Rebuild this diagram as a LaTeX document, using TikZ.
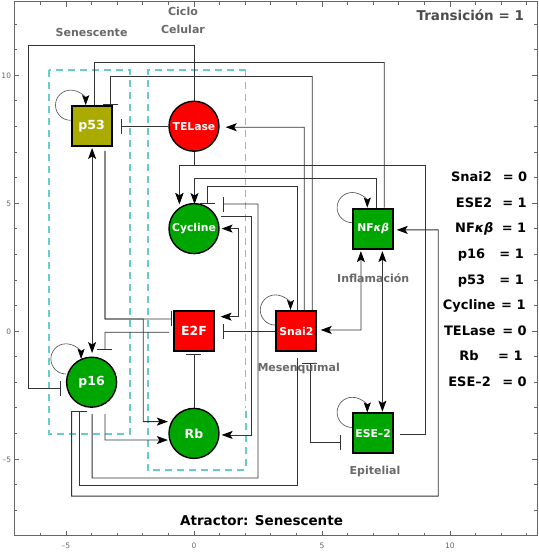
\documentclass[tikz,border=0pt]{standalone}
\usepackage{fontspec}
\setmainfont{DejaVu Sans}
\usetikzlibrary{calc}
\usetikzlibrary{arrows.meta}
\definecolor{nodegreen}{RGB}{0,166,0}
\definecolor{nodered}{RGB}{255,0,0}
\definecolor{nodeolive}{RGB}{170,170,0}
\definecolor{boxcyan}{RGB}{102,204,204}
\definecolor{framegray}{RGB}{102,102,102}
\definecolor{labelgray}{RGB}{105,105,105}
\tikzset{%
  wire/.style={draw=black!80, line width=0.8pt},
  actedge/.style={wire, -{Stealth[length=11pt,width=8pt,inset=2.5pt,color=black]}},
  bothedge/.style={wire, {Stealth[length=11pt,width=8pt,inset=2.5pt,color=black]}-{Stealth[length=11pt,width=8pt,inset=2.5pt,color=black]}},
  inhedge/.style={wire, -{Bar[width=15pt]}},
  mutinh/.style={wire, {Bar[width=15pt]}-{Bar[width=15pt]}},
  loopedge/.style={draw=black!70, line width=0.6pt, -{Stealth[length=10pt,width=7pt,inset=2pt,color=black]}},
  sqnode/.style={rectangle, draw=black, line width=2pt, minimum size=40pt, inner sep=0pt, text=white},
  cnode/.style={circle, draw=black, line width=1.4pt, minimum size=50pt, inner sep=0pt, text=white},
  bigtxt/.style={font=\fontsize{12.5}{15}\selectfont\bfseries},
  smalltxt/.style={font=\fontsize{10.8}{13}\selectfont\bfseries},
  grplabel/.style={text=labelgray, font=\fontsize{11}{18}\selectfont\bfseries, anchor=base},
  statelabel/.style={font=\fontsize{13}{15}\selectfont\bfseries, anchor=base},
  ticklabel/.style={text=framegray, font=\fontsize{7.5}{9}\selectfont},
  grpbox/.style={draw=boxcyan, line width=1.8pt, dash pattern=on 7pt off 5pt},
  grpboxthin/.style={draw=boxcyan, line width=0.8pt, dash pattern=on 7pt off 5pt}
}
\begin{document}
\begin{tikzpicture}[x=25.6pt, y=25.6pt]
  \useasboundingbox (-7.578,-8.633) rectangle (13.477,12.93);
  % frame and ticks
  \draw[framegray, line width=0.8pt] (-7.02,-8.0) rectangle (13.4,12.87);
  \foreach \t in {-7,...,13}
    \draw[framegray, line width=0.6pt] (\t,-8.0) -- ++(0,3pt) (\t,12.87) -- ++(0,-3pt);
  \foreach \t in {-8,...,12}
    \draw[framegray, line width=0.6pt] (-7.02,\t) -- ++(3pt,0) (13.4,\t) -- ++(-3pt,0);
  \foreach \t in {-5,0,5,10}
    \draw[framegray, line width=0.6pt] (\t,-8.0) -- ++(0,5pt) (\t,12.87) -- ++(0,-5pt)
      (-7.02,\t) -- ++(5pt,0) (13.4,\t) -- ++(-5pt,0);
  \foreach \t/\s in {-5/–5,0/0,5/5,10/10} {
    \node[ticklabel, anchor=base] at (\t,-8.49) {\s};
    \node[ticklabel, anchor=base east, inner sep=1pt] at (-7.1,{\t-0.15}) {\s};
  }

  % group boxes
  \draw[grpbox] (-5.66,10.2) rectangle (-2.5,-4.02);
  \draw[grpbox] (2.02,10.2) -- (-1.81,10.2) -- (-1.81,-5.43) -- (2.02,-5.43) -- (2.02,-3.0);
  \draw[grpboxthin] (2.02,10.2) -- (2.02,-3.0);

  % nodes
  \node[sqnode, fill=nodeolive, bigtxt] (p53) at (-4,8) {p53};
  \node[cnode, fill=nodered, smalltxt] (tel) at (0,8) {TELase};
  \node[cnode, fill=nodegreen, smalltxt] (cyc) at (0,4) {Cycline};
  \node[sqnode, fill=nodered, bigtxt] (e2f) at (0,0) {E2F};
  \node[sqnode, fill=nodered, smalltxt] (snai) at (4,0) {Snai2};
  \node[sqnode, fill=nodegreen, smalltxt] (nfkb) at (7,4) {NF{\itshape κβ}};
  \node[sqnode, fill=nodegreen, smalltxt] (ese) at (7,-4) {ESE–2};
  \node[cnode, fill=nodegreen, bigtxt] (p16) at (-4,-2) {p16};
  \node[cnode, fill=nodegreen, bigtxt] (rb) at (0,-4) {Rb};

  % wires
  \draw[inhedge] (tel.north) -- (0,11.17) -- (-6.48,11.17) -- (-6.48,-2.23) -- ($(p16)+(-1.2,-0.23)$);
  \draw[inhedge] (tel.west) -- ($(p53)+(1.13,0)$);
  \draw[wire] ($(p53)+(0.11,0.82)$) -- (-3.89,10.49) -- (7.43,10.49) -- ($(nfkb)+(0.43,0.82)$);
  \draw[inhedge] ($(snai)+(0.62,0.82)$) -- (4.62,9.94) -- (-3.26,9.94) -- ($(p53)+(0.74,0.85)$);
  \draw[actedge] ($(snai)+(0.31,0.82)$) -- (4.31,7.96) -- ($(tel)+(1.24,-0.04)$);
  \draw[bothedge] ($(p53)+(0.02,-0.85)$) -- ($(p16)+(0.02,1.14)$);
  \draw[inhedge] ($(p53)+(0.52,-0.96)$) -- (-3.48,0.47) -- ($(e2f)+(-0.86,0.47)$);
  \draw[actedge] ($(p53)+(0.52,-0.96)$) -- (-3.48,0.47) -- (-1.98,0.47) -- (-1.98,-3.54) -- ($(rb)+(-1.02,0.46)$);
  \draw[inhedge] ($(e2f)+(-0.98,-0.05)$) -- (-3.48,-0.05) -- ($(p16)+(0.52,1.26)$);
  \draw[actedge] ($(p16)+(0.52,-1.25)$) -- (-3.48,-4.26) -- ($(rb)+(-1.02,-0.26)$);
  \draw[inhedge] ($(p16)+(0.02,-1.25)$) -- (-3.98,-5.74) -- (2.5,-5.74) -- (2.5,4.96) -- ($(cyc)+(1.14,0.96)$);
  \draw[inhedge] ($(snai)+(0.02,0.82)$) -- (4.02,5.66) -- (0.52,5.66) -- ($(cyc)+(0.52,0.98)$);
  \draw[actedge] ($(ese)+(1.05,-0.02)$) -- (9.02,-4.02) -- (9.02,6.46) -- (-0.57,6.46) -- ($(cyc)+(-0.57,0.96)$);
  \draw[actedge] (tel.south) -- (0,6.46) -- (-0.57,6.46) -- ($(cyc)+(-0.57,0.96)$);
  \draw[actedge] ($(nfkb)+(0.14,0.82)$) -- (7.14,5.98) -- (0.02,5.98) -- ($(cyc)+(0.02,0.96)$);
  \draw[bothedge] ($(cyc)+(1.08,0)$) -- (1.72,4) -- (1.72,0.56) -- ($(e2f)+(1.04,0.56)$);
  \draw[actedge] ($(cyc)+(1.05,0.47)$) -- (2.23,4.47) -- (2.23,-4.06) -- ($(rb)+(1.08,-0.06)$);
  \draw[inhedge] ($(snai)+(0.03,-1.06)$) -- (4.03,-6.04) -- (-4.48,-6.04) -- ($(p16)+(-0.48,-1.13)$);
  \draw[actedge] ($(p16)+(-0.78,-1.13)$) -- (-4.78,-6.45) -- (9.54,-6.45) -- (9.54,3.95) -- ($(nfkb)+(0.92,-0.05)$);
  \draw[bothedge] ($(snai)+(0.95,0.04)$) -- (6.52,0.04) -- ($(nfkb)+(-0.48,-0.88)$);
  \draw[bothedge] ($(nfkb)+(0.36,-0.88)$) -- ($(ese)+(0.36,0.85)$);
  \draw[mutinh] ($(snai)+(0.53,-1.24)$) -- (4.53,-4.35) -- ($(ese)+(-1.27,-0.35)$);
  \draw[inhedge] (snai.west) -- ($(e2f)+(1.14,0)$);
  \draw[inhedge] (rb.north) -- ($(e2f)+(0,-0.91)$);

  % self loops
  \foreach \n in {p53,snai,nfkb,ese}
    \draw[loopedge] ($(\n)+(-0.82,0.23)$) arc[start angle=-90, end angle=-360, radius=0.59];
  \draw[loopedge] ($(p16)+(-1.0,0.32)$) arc[start angle=-90, end angle=-360, radius=0.59];

  % group labels
  \node[grplabel] (lsen) at (-4.0,11.52) {Senescente};
  \node[grplabel, align=center] (lcic) at (-0.43,11.63) {Ciclo\\Celular};
  \node[grplabel] (linf) at (7.0,1.91) {Inflamación};
  \node[grplabel] (lmes) at (4.09,-1.6) {Mesenquimal};
  \node[grplabel] (lepi) at (7.07,-5.59) {Epitelial};

  % state list
  \node[statelabel, text=black!70, font=\fontsize{13.5}{15}\selectfont\bfseries] (trans) at (10.79,12.12) {Transición = 1};
  \foreach \nm/\xa/\va/\xb/\row in {Snai2/10.84/= 0/12.54/6, ESE2/10.94/= 1/12.52/5,
      NF{\itshape κβ}/10.95/= 1/12.50/4, p16/10.84/= 1/12.41/3, p53/10.84/= 1/12.41/2,
      Cycline/10.75/= 1/12.48/1, TELase/10.77/= 0/12.52/0, Rb/10.74/= 1/12.36/-1,
      ESE–2/10.77/= 0/12.52/-2} {
    \node[statelabel] at (\xa,{\row-0.17}) {\nm};
    \node[statelabel] at (\xb,{\row-0.17}) {\va};
  }
  \node[statelabel, font=\fontsize{13.5}{15}\selectfont\bfseries] (attr) at (2.64,-7.58) {Atractor: Senescente};
\end{tikzpicture}
\end{document}
